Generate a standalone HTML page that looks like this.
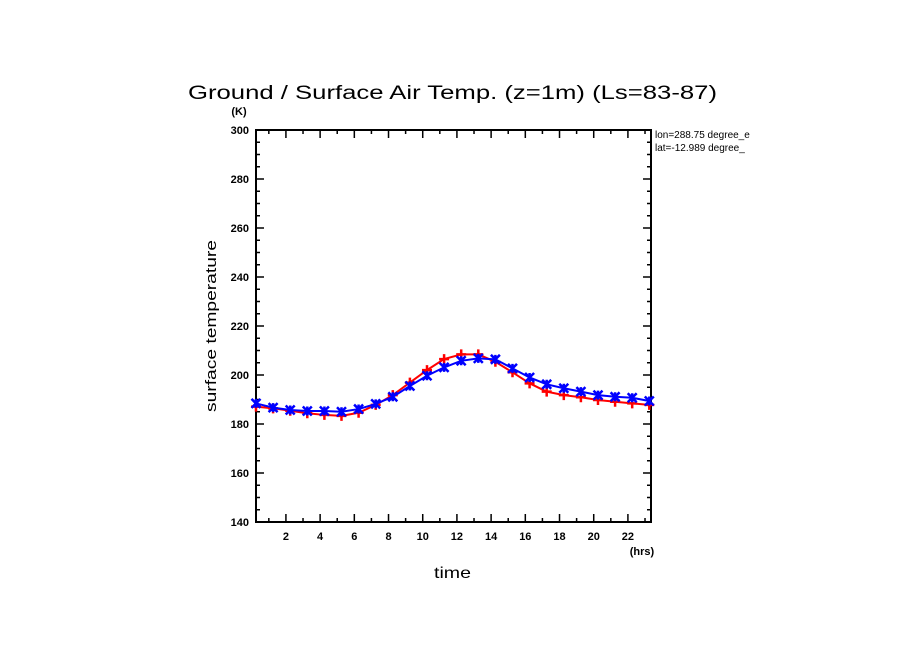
<!DOCTYPE html>
<html><head><meta charset="utf-8"><style>
body{margin:0;background:#fff;}
svg text{font-family:"Liberation Sans",sans-serif;fill:#000;}
</style></head><body>
<svg id="c" width="904" height="654" xmlns="http://www.w3.org/2000/svg">
<text x="188" y="99" font-size="19" textLength="529" lengthAdjust="spacingAndGlyphs">Ground / Surface Air Temp. (z=1m) (Ls=83-87)</text>
<text x="239" y="115" font-size="11" text-anchor="middle" font-weight="bold">(K)</text>
<text x="642" y="555" font-size="11" text-anchor="middle" font-weight="bold">(hrs)</text>
<text x="434" y="578" font-size="16" textLength="37" lengthAdjust="spacingAndGlyphs">time</text>
<text x="216" y="412" font-size="15" textLength="172" lengthAdjust="spacingAndGlyphs" transform="rotate(-90 216 412)">surface temperature</text>
<text x="655" y="138" font-size="10">lon=288.75 degree_e</text>
<text x="655" y="151" font-size="10">lat=-12.989 degree_</text>
<rect x="256" y="130" width="395" height="392" fill="none" stroke="#000" stroke-width="2"/>
<g id="axes"></g><g id="series"></g>
</svg>
<script>
const hours=[0.25,1.25,2.25,3.25,4.25,5.25,6.25,7.25,8.25,9.25,10.25,11.25,12.25,13.25,14.25,15.25,16.25,17.25,18.25,19.25,20.25,21.25,22.25,23.25];
const groundTemp=[188.4,186.7,185.7,185.3,185.3,185.0,186.1,188.2,191.1,195.5,199.7,203.1,205.8,206.8,206.4,202.7,199.0,196.2,194.6,193.2,191.8,191.1,190.7,189.4];
const airTemp=[187.1,186.4,185.4,184.4,183.7,183.3,184.6,187.8,191.8,196.9,202.0,206.5,208.4,208.4,205.4,201.1,196.6,193.2,191.8,190.9,189.8,189.1,188.4,187.8];
const xTicks=[2,4,6,8,10,12,14,16,18,20,22];
const yTicks=[140,160,180,200,220,240,260,280,300];
const X0=256,X1=651,Y0=522,Y1=130,xmin=0.25,xmax=23.35,ymin=140,ymax=300;
const sx=v=>X0+(v-xmin)/(xmax-xmin)*(X1-X0);
const sy=v=>Y0-(v-ymin)/(ymax-ymin)*(Y0-Y1);
const NS="http://www.w3.org/2000/svg";
const ax=document.getElementById('axes'),se=document.getElementById('series');
function mk(t,a,p){const e=document.createElementNS(NS,t);for(const k in a)e.setAttribute(k,a[k]);p.appendChild(e);return e;}
let tk='';
for(let h=1;h<=23;h++){const x=sx(h),L=h%2==0?8:4;tk+=`M${x},${Y0}v${-L}M${x},${Y1}v${L}`;}
for(let v=145;v<300;v+=5){const y=sy(v),L=v%20==0?8:4;tk+=`M${X0},${y}h${L}M${X1},${y}h${-L}`;}
const tp=mk('path',{d:tk,stroke:'#000','stroke-width':1.5,fill:'none'},ax);


xTicks.forEach(h=>{const t=mk('text',{x:sx(h),y:540,'font-size':11,'font-weight':'bold','text-anchor':'middle'},ax);t.textContent=h;

});
yTicks.forEach(v=>{const t=mk('text',{x:249,y:sy(v)+4,'font-size':11,'font-weight':'bold','text-anchor':'end'},ax);t.textContent=v;

});
function series(vals,color,marker,name){
 const g=mk('g',{},se);
 
 
 mk('polyline',{points:vals.map((v,i)=>sx(hours[i])+','+sy(v)).join(' '),fill:'none',stroke:color,'stroke-width':2},g);
 let d='';
 vals.forEach((v,i)=>{const x=sx(hours[i]),y=sy(v),r=marker=='+'?5:4.5;
  if(marker=='+')d+=`M${x-r},${y}h${2*r}M${x},${y-r}v${2*r}`;
  else d+=`M${x-r},${y-r}l${2*r},${2*r}M${x-r},${y+r}l${2*r},${-2*r}M${x},${y-r}v${2*r}`;});
 const m=mk('path',{d:d,stroke:color,'stroke-width':2.5,fill:'none'},g);
 
 
}
series(airTemp,'#ff0000','+','air-temp-series');
series(groundTemp,'#0000ff','*','ground-temp-series');
</script>
</body></html>
